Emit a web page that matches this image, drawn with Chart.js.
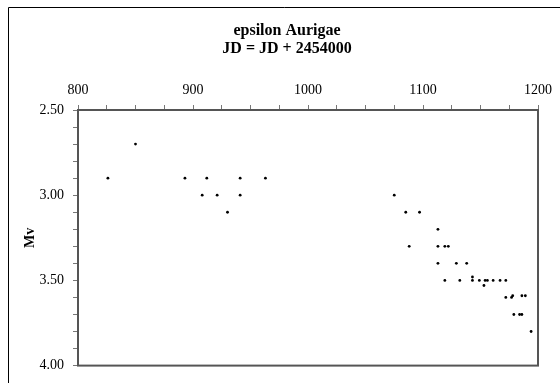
<!DOCTYPE html>
<html>
<head>
<meta charset="utf-8">
<script src="https://cdn.jsdelivr.net/npm/chart.js@4"></script>
<style>
    html, body { margin: 0; padding: 0; background: #fff; }
    #wrap { width: 560px; height: 383px; position: relative; }
</style>
</head>
<body>
<div id="wrap"><canvas id="lightCurve"></canvas></div>
<script>
// Observations: JD offset (JD - 2454000) and visual magnitude
const jdDays = [826, 850, 893, 908, 912, 921, 930, 941, 941, 963,
    1075, 1085, 1097, 1113, 1088, 1113, 1119, 1122, 1113, 1129, 1138,
    1119, 1132, 1143, 1143, 1149, 1153, 1154, 1156, 1161, 1167, 1172,
    1172, 1177, 1178, 1186, 1189, 1179, 1184, 1186, 1194];
const magnitudes = [2.9, 2.7, 2.9, 3.0, 2.9, 3.0, 3.1, 2.9, 3.0, 2.9,
    3.0, 3.1, 3.1, 3.2, 3.3, 3.3, 3.3, 3.3, 3.4, 3.4, 3.4,
    3.5, 3.5, 3.48, 3.5, 3.5, 3.53, 3.5, 3.5, 3.5, 3.5, 3.5,
    3.6, 3.6, 3.59, 3.59, 3.59, 3.7, 3.7, 3.7, 3.8];
const titleLines = ['epsilon Aurigae', 'JD = JD + 2454000'];
const xTickRange = [800, 1200];
const yTickRange = [2.5, 4.0];

const points = jdDays.map((d, i) => ({ x: d, y: magnitudes[i] }));

// frame, plot border and title drawn on top of the library output
const framePlugin = {
    id: 'framePlugin',
    afterDraw(chart) {
        const ctx = chart.ctx;
        const a = chart.chartArea;
        ctx.save();
        ctx.strokeStyle = '#000';
        ctx.lineWidth = 1;
        ctx.beginPath();
        ctx.moveTo(8.5, 383);
        ctx.lineTo(8.5, 7.5);
        ctx.lineTo(560, 7.5);
        ctx.stroke();

        ctx.strokeStyle = '#555';
        ctx.lineWidth = 2;
        ctx.strokeRect(a.left, a.top, a.right - a.left, a.bottom - a.top);

        ctx.fillStyle = '#000';
        ctx.font = 'bold 16px "Liberation Serif"';
        ctx.textAlign = 'center';
        ctx.textBaseline = 'middle';
        ctx.fillText(titleLines[0], 287, 31);
        ctx.fillText(titleLines[1], 287, 49);
        ctx.restore();
    }
};

new Chart(document.getElementById('lightCurve'), {
    type: 'scatter',
    data: {
        datasets: [{
            data: points,
            backgroundColor: '#000',
            borderColor: '#000',
            pointRadius: 1.4,
            pointBorderWidth: 0
        }]
    },
    options: {
        responsive: true,
        maintainAspectRatio: false,
        animation: false,
        layout: { padding: { left: 8, right: 22, top: 60, bottom: 16 } },
        plugins: {
            legend: { display: false },
            tooltip: { enabled: false }
        },
        scales: {
            x: {
                type: 'linear',
                position: 'top',
                min: xTickRange[0],
                max: xTickRange[1],
                afterFit: (s) => { s.height = 50; },
                border: { display: false },
                grid: { drawOnChartArea: false, drawTicks: true, tickLength: 5, color: '#777' },
                ticks: {
                    stepSize: 25,
                    autoSkip: false,
                    maxRotation: 0,
                    padding: 6,
                    color: '#000',
                    font: { family: 'Liberation Serif', size: 14 },
                    callback: (v) => (v % 100 === 0 ? String(v) : '')
                }
            },
            y: {
                type: 'linear',
                reverse: true,
                min: yTickRange[0],
                max: yTickRange[1],
                afterFit: (s) => { s.width = 70; },
                border: { display: false },
                grid: { drawOnChartArea: false, drawTicks: true, tickLength: 5, color: '#777' },
                ticks: {
                    stepSize: 0.1,
                    autoSkip: false,
                    padding: 9,
                    color: '#000',
                    font: { family: 'Liberation Serif', size: 14 },
                    callback: (v) => {
                        const h = v * 2;
                        return Math.abs(h - Math.round(h)) < 1e-6 ? v.toFixed(2) : '';
                    }
                },
                title: {
                    display: true,
                    text: 'Mv',
                    color: '#000',
                    padding: { top: 14, bottom: 0 },
                    font: { family: 'Liberation Serif', size: 14, weight: 'bold' }
                }
            }
        }
    },
    plugins: [framePlugin]
});
</script>
</body>
</html>
